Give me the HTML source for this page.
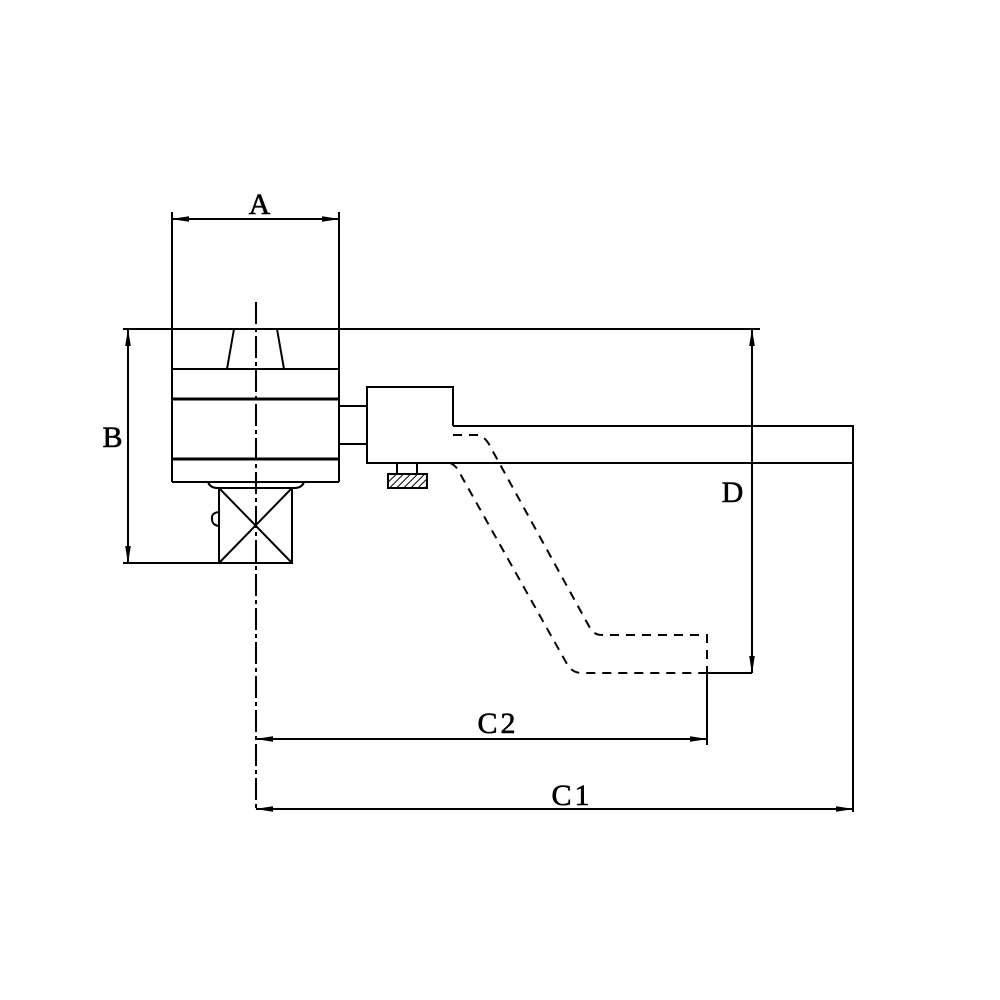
<!DOCTYPE html>
<html><head><meta charset="utf-8"><style>html,body{margin:0;padding:0;background:#fff}svg{display:block}</style></head>
<body>
<svg width="1000" height="1000" viewBox="0 0 1000 1000" xmlns="http://www.w3.org/2000/svg">
<defs>
<marker id="ar" markerWidth="18" markerHeight="8" refX="17" refY="4" orient="auto-start-reverse" markerUnits="userSpaceOnUse">
<path d="M0,1.2 L18,4 L0,6.8 Z" fill="#000"/>
</marker>
<pattern id="h" width="5" height="5" patternUnits="userSpaceOnUse" patternTransform="rotate(45)">
<line x1="0" y1="0" x2="0" y2="5" stroke="#000" stroke-width="2"/>
</pattern>
</defs>
<g stroke="#000" stroke-width="2" fill="none">
<line x1="172" y1="212" x2="172" y2="482"/>
<line x1="339" y1="212" x2="339" y2="482"/>
<line x1="172" y1="219" x2="339" y2="219" marker-start="url(#ar)" marker-end="url(#ar)"/>
<line x1="172" y1="482" x2="339" y2="482"/>
<line x1="172" y1="369" x2="339" y2="369"/>
<line x1="172" y1="399" x2="339" y2="399" stroke-width="3"/>
<line x1="172" y1="459" x2="339" y2="459" stroke-width="3"/>
<polyline points="234,329 227,369"/>
<polyline points="277,329 284,369"/>
<line x1="123" y1="329" x2="760" y2="329"/>
<line x1="123" y1="563" x2="219" y2="563"/>
<line x1="128" y1="329" x2="128" y2="563" marker-start="url(#ar)" marker-end="url(#ar)"/>
<rect x="339" y="406" width="28" height="38"/>
<polyline points="453,426 453,387 367,387 367,463 853,463"/>
<polyline points="453,426 853,426 853,812"/>
<polyline points="397,463 397,474"/>
<polyline points="417,463 417,474"/>
<rect x="388" y="474" width="39" height="14" fill="url(#h)"/>
<path d="M208,482 Q210,488 218,488 L294,488 Q302,488 304,482"/>
<rect x="219" y="488" width="73" height="75"/>
<line x1="219" y1="488" x2="292" y2="563"/>
<line x1="292" y1="488" x2="219" y2="563"/>
<path d="M219,512 Q211,513 212,519 Q212,525 219,526"/>
<line x1="256" y1="302" x2="256" y2="812" stroke-dasharray="22,4,4,4"/>
<path d="M453,435 L478,435 Q486,437 491,448 L590,628 Q594,635 602,635 L707,635 L707,673" stroke-dasharray="9,7"/>
<path d="M450,463 Q455,465 458,470 L567,664 Q572,673 582,673 L707,673" stroke-dasharray="9,7"/>
<line x1="707" y1="673" x2="707" y2="745"/>
<line x1="707" y1="673" x2="752" y2="673"/>
<line x1="752" y1="329" x2="752" y2="673" marker-start="url(#ar)" marker-end="url(#ar)"/>
<line x1="256" y1="739" x2="707" y2="739" marker-start="url(#ar)" marker-end="url(#ar)"/>
<line x1="256" y1="809" x2="853" y2="809" marker-start="url(#ar)" marker-end="url(#ar)"/>
</g>
<g font-family="'Liberation Serif', serif" font-size="30" fill="#000" stroke="#000" stroke-width="0.6" text-anchor="middle" letter-spacing="3">
<text x="261" y="214">A</text>
<text x="114" y="447">B</text>
<text x="734" y="502">D</text>
<text x="498" y="733">C2</text>
<text x="572" y="805">C1</text>
</g>
</svg>
</body></html>
